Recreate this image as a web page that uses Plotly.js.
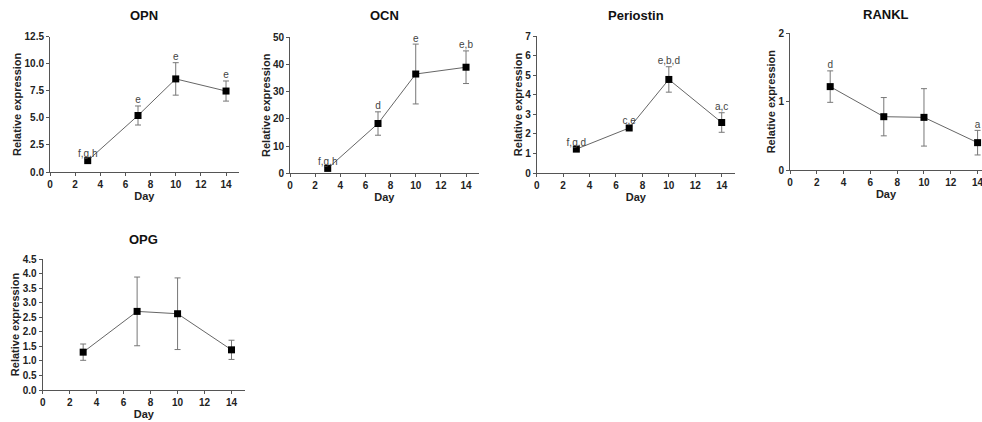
<!DOCTYPE html>
<html><head><meta charset="utf-8">
<script src="https://cdn.plot.ly/plotly-3.0.1.min.js"></script>
<style>html,body{margin:0;padding:0;background:#fff}#chart{width:982px;height:422px}</style>
</head><body><div id="chart"></div>
<script>
const days = [3, 7, 10, 14];

const opnMean = [1.05, 5.22, 8.6, 7.48];
const opnErr = [0.1, 0.88, 1.5, 0.93];
const opnLabels = ["f,g,h", "e", "e", "e"];

const ocnMean = [1.8, 18.3, 36.5, 39.0];
const ocnErr = [0.4, 4.3, 11.0, 6.0];
const ocnLabels = ["f,g,h", "d", "e", "e,b"];

const posMean = [1.22, 2.3, 4.78, 2.58];
const posErr = [0.05, 0.07, 0.65, 0.5];
const posLabels = ["f,g,d", "c,e", "e,b,d", "a,c"];

const rankMean = [1.22, 0.78, 0.77, 0.4];
const rankErr = [0.23, 0.28, 0.42, 0.18];
const rankLabels = ["d", "", "", "a"];

const opgMean = [1.3, 2.7, 2.62, 1.38];
const opgErr = [0.28, 1.18, 1.23, 0.33];
const opgLabels = ["", "", "", ""];

const panelTitles = ["OPN", "OCN", "Periostin", "RANKL", "OPG"];
const yTickVals = [
  [0, 2.5, 5, 7.5, 10, 12.5],
  [0, 10, 20, 30, 40, 50],
  [0, 1, 2, 3, 4, 5, 6, 7],
  [0, 1, 2],
  [0, 0.5, 1, 1.5, 2, 2.5, 3, 3.5, 4, 4.5]
];
const yTickText = [
  ["0.0", "2.5", "5.0", "7.5", "10.0", "12.5"],
  ["0", "10", "20", "30", "40", "50"],
  ["0", "1", "2", "3", "4", "5", "6", "7"],
  ["0", "1", "2"],
  ["0.0", "0.5", "1.0", "1.5", "2.0", "2.5", "3.0", "3.5", "4.0", "4.5"]
];
const yMax = [12.5, 50, 7, 2, 4.5];
const xTickVals = [0, 2, 4, 6, 8, 10, 12, 14];

const W = 982, H = 422;
// pixel geometry: [x0px, xEndPx, xRangeMax, yTopPx, yBottomPx]
const geo = [
  [50, 238.6, 15, 36.7, 172],
  [290, 478.6, 15, 37.3, 173.3],
  [536.7, 734.9, 15, 36, 173],
  [790, 982, 14.33, 33.3, 170],
  [42.7, 245, 15, 259, 390]
];
const titleY = [16, 16, 16, 14, 239];

const series = [
  [opnMean, opnErr, opnLabels],
  [ocnMean, ocnErr, ocnLabels],
  [posMean, posErr, posLabels],
  [rankMean, rankErr, rankLabels],
  [opgMean, opgErr, opgLabels]
];

const FAM = "Liberation Sans, Arial, sans-serif";
const bold = t => "<b>" + t + "</b>";
const traces = [];
const layout = {
  width: W, height: H,
  margin: {l: 0, r: 0, t: 0, b: 0},
  paper_bgcolor: "#fff", plot_bgcolor: "#fff",
  showlegend: false,
  font: {family: FAM, color: "#222"},
  annotations: []
};
const tickFont = {family: FAM, size: 10, color: "#222"};
const axTitleFont = {family: FAM, size: 11, color: "#222"};

series.forEach((s, i) => {
  const n = i + 1;
  const xa = "x" + (n === 1 ? "" : n), ya = "y" + (n === 1 ? "" : n);
  const [mean, err, labels] = s;
  traces.push({
    x: days, y: mean, xaxis: xa, yaxis: ya, type: "scatter", mode: "lines+markers",
    line: {color: "#666", width: 1},
    marker: {symbol: "square", size: 7, color: "#000"},
    error_y: {type: "data", array: err, visible: true, color: "#777", thickness: 1, width: 3},
    cliponaxis: false
  });
  traces.push({
    x: days, y: mean.map((m, k) => m + err[k]), xaxis: xa, yaxis: ya, type: "scatter", mode: "text",
    text: labels, textposition: "top center",
    textfont: {family: FAM, size: 10, color: "#444"},
    cliponaxis: false, hoverinfo: "skip"
  });
  const g = geo[i];
  const xk = "xaxis" + (n === 1 ? "" : n), yk = "yaxis" + (n === 1 ? "" : n);
  layout[xk] = {
    domain: [g[0] / W, Math.min(1, g[1] / W)], range: [0, g[2]], anchor: ya,
    tickvals: xTickVals, ticktext: xTickVals.map(v => bold(String(v))), ticklabeloverflow: "allow",
    showline: true, linecolor: "#555", linewidth: 1, ticks: "outside", ticklen: 3, tickcolor: "#555",
    showgrid: false, zeroline: false, tickfont: tickFont,
    title: {text: bold("Day"), font: axTitleFont, standoff: 3}
  };
  layout[yk] = {
    domain: [1 - g[4] / H, 1 - g[3] / H], range: [0, yMax[i]], anchor: xa,
    tickvals: yTickVals[i], ticktext: yTickText[i].map(bold), ticklabeloverflow: "allow",
    showline: true, linecolor: "#555", linewidth: 1, ticks: "outside", ticklen: 3, tickcolor: "#555",
    showgrid: false, zeroline: false, tickfont: tickFont,
    title: {text: bold("Relative expression"), font: axTitleFont, standoff: 0}
  };
  layout.annotations.push({
    text: bold(panelTitles[i]), xref: "paper", yref: "paper",
    x: ((g[0] + g[1]) / 2) / W, y: 1 - titleY[i] / H,
    xanchor: "center", yanchor: "middle", showarrow: false,
    font: {family: FAM, size: 13, color: "#111"}
  });
});

Plotly.newPlot("chart", traces, layout, {staticPlot: true});
</script>
</body></html>
